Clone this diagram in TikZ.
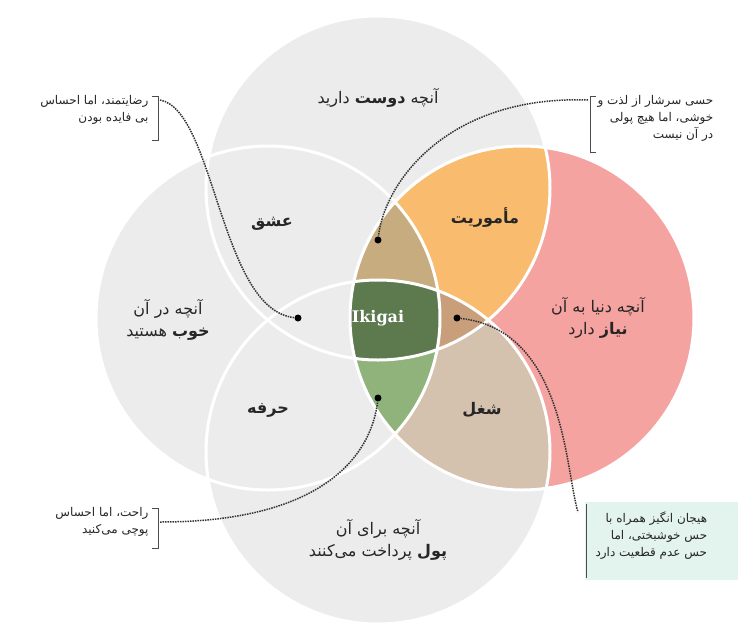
\documentclass[tikz,border=0pt]{standalone}
\usepackage{fontspec}
\newfontfamily\persian[Script=Arabic]{DejaVu Sans}
\newfontfamily\slab{DejaVu Serif}
\TeXXeTstate=1
\usetikzlibrary{calc}
\usetikzlibrary{positioning}
\usetikzlibrary{arrows.meta}
\newcommand{\rl}[1]{{\persian\beginR #1\endR}}
\definecolor{ringgray}{HTML}{ECECEC}
\definecolor{needpink}{HTML}{F4A3A0}
\definecolor{missorange}{HTML}{F9BB6D}
\definecolor{vocatan}{HTML}{D4C1AE}
\definecolor{toplens}{HTML}{C6AC7E}
\definecolor{rightlens}{HTML}{C99F7B}
\definecolor{botlens}{HTML}{8FB37B}
\definecolor{ikigreen}{HTML}{5C7A4E}
\definecolor{notegreen}{HTML}{E3F4EE}

\begin{document}
\begin{tikzpicture}[%
  x=1pt, y=-1pt,
  ring/.style={draw=white, line width=3pt},
  lbl/.style={font=\fontsize{16}{22}\selectfont, align=center, text=black!85},
  word/.style={lbl, font=\fontsize{16}{22}\selectfont\bfseries},
  note/.style={font=\fontsize{12}{17}\selectfont, align=right, text=black!85},
  lead/.style={densely dotted, line width=1.5pt, black!80},
  dot/.style={circle, fill=black, inner sep=0pt, minimum size=7pt},
]

  \useasboundingbox (0,0) rectangle (756,641);
  \def\R{172}
  \coordinate (T) at (378,188);
  \coordinate (L) at (268,318);
  \coordinate (Q) at (522,318);
  \coordinate (B) at (378,452);

  % base circles
  \fill[ringgray] (T) circle (\R) (L) circle (\R) (B) circle (\R);
  \fill[needpink] (Q) circle (\R);
  \begin{scope}
    \clip (T) circle (\R);
    \fill[missorange] (Q) circle (\R);
  \end{scope}
  \begin{scope}
    \clip (B) circle (\R);
    \fill[vocatan] (Q) circle (\R);
  \end{scope}

  % triple overlaps
  \begin{scope}
    \clip (T) circle (\R); \clip (L) circle (\R);
    \fill[toplens] (Q) circle (\R);
  \end{scope}
  \begin{scope}
    \clip (T) circle (\R); \clip (B) circle (\R);
    \fill[rightlens] (Q) circle (\R);
  \end{scope}
  \begin{scope}
    \clip (L) circle (\R); \clip (B) circle (\R);
    \fill[botlens] (Q) circle (\R);
  \end{scope}
  \begin{scope}
    \clip (L) circle (\R); \clip (B) circle (\R); \clip (Q) circle (\R);
    \fill[ikigreen] (T) circle (\R);
  \end{scope}

  \draw[ring] (T) circle (\R) (L) circle (\R) (B) circle (\R) (Q) circle (\R);

  % labels
  \node[lbl] (love) at (378,98) {\rl{آنچه {\bfseries دوست} دارید}};
  \node[lbl] (good) at (168,320) {\rl{آنچه در آن}\\\rl{{\bfseries خوب} هستید}};
  \node[lbl] (need) at (598,318) {\rl{آنچه دنیا به آن}\\\rl{{\bfseries نیاز} دارد}};
  \node[lbl] (paid) at (378,540) {\rl{آنچه برای آن}\\\rl{{\bfseries پول} پرداخت می‌کنند}};
  \node[word] (passion) at (272,224) {\rl{عشق}};
  \node[word] (mission) at (485,218) {\rl{مأموریت}};
  \node[word] (profession) at (268,410) {\rl{حرفه}};
  \node[word] (vocation) at (482,410) {\rl{شغل}};
  \node[font=\slab\fontsize{16}{20}\selectfont\bfseries, text=white] (ikigai) at (378,318) {Ikigai};

  % notes
  \fill[notegreen] (585,502) rectangle (738,580);
  \node[note, anchor=north east] (n1) at (152,92) {\rl{رضایتمند، اما احساس}\\\rl{بی فایده بودن}};
  \node[note, anchor=north west] (n2) at (594,92) {\rl{حسی سرشار از لذت و}\\\rl{خوشی، اما هیچ پولی}\\\rl{در آن نیست}};
  \node[note, anchor=north east] (n3) at (152,504) {\rl{راحت، اما احساس}\\\rl{پوچی می‌کنید}};
  \node[note, anchor=north west] (n4) at (592,508) {\rl{هیجان انگیز همراه با}\\\rl{حس خوشبختی، اما}\\\rl{حس عدم قطعیت دارد}};

  \draw[black!70, line width=1pt] (152,96) -- (158,96) -- (158,140) -- (152,140);
  \draw[black!70, line width=1pt] (596,96) -- (590,96) -- (590,152) -- (596,152);
  \draw[black!70, line width=1pt] (152,508) -- (158,508) -- (158,548) -- (152,548);
  \draw[black!70, line width=1pt] (586,504) -- (586,578);

  % leaders
  \node[dot] (d1) at (298,318) {};
  \node[dot] (d2) at (378,240) {};
  \node[dot] (d3) at (378,398) {};
  \node[dot] (d4) at (457,318) {};
  \coordinate (e1) at (160,100);
  \coordinate (e2) at (588,100);
  \coordinate (e3) at (160,522);
  \coordinate (e4) at (578,512);
  \draw[lead] (e1) .. controls (215,110) and (220,310) .. (d1);
  \draw[lead] (e2) .. controls (450,95) and (385,180) .. (d2);
  \draw[lead] (e3) .. controls (330,522) and (372,450) .. (d3);
  \draw[lead] (d4) .. controls (565,330) and (565,470) .. (e4);

\end{tikzpicture}
\end{document}
